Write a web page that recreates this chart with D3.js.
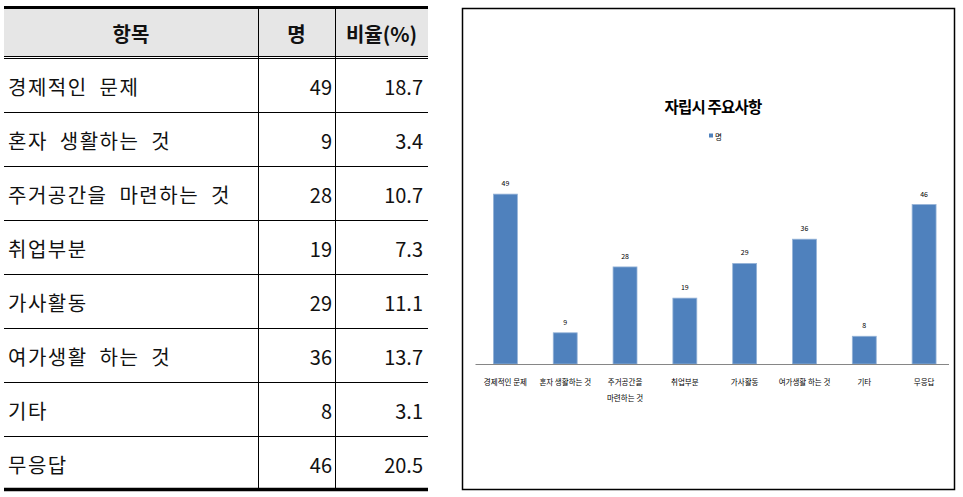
<!DOCTYPE html>
<html><head><meta charset="utf-8">
<script src="https://cdn.jsdelivr.net/npm/d3@7"></script>
<style>
html,body{margin:0;padding:0;background:#fff;}
svg{display:block;}
text{font-family:"Noto Sans CJK KR","Noto Sans",sans-serif;}
</style></head>
<body>
<svg id="c" width="963" height="497"></svg>
<script>
const categories = ["경제적인 문제","혼자 생활하는 것","주거공간을 마련하는 것","취업부분","가사활동","여가생활 하는 것","기타","무응답"];
const tableLabels = ["경제적인  문제","혼자  생활하는  것","주거공간을  마련하는  것","취업부분","가사활동","여가생활  하는  것","기타","무응답"];
const axisLabels = [["경제적인 문제"],["혼자 생활하는 것"],["주거공간을","마련하는 것"],["취업부분"],["가사활동"],["여가생활 하는 것"],["기타"],["무응답"]];
const counts = [49,9,28,19,29,36,8,46];
const ratios = ["18.7","3.4","10.7","7.3","11.1","13.7","3.1","20.5"];
const headers = ["항목","명","비율(%)"];
const chartTitle = "자립시 주요사항";
const seriesName = "명";
const yTicks = [0,10,20,30,40,50,60];

const svg = d3.select("#c");

// ---------- TABLE ----------
const tL = 4, tR = 428, c1 = 258, c2 = 335;
const headTop = 9, headBot = 56;
const rowY = d3.scaleBand().domain(d3.range(categories.length)).range([58.5, 490]);

svg.append("rect").attr("x",tL).attr("y",headTop).attr("width",tR-tL).attr("height",headBot-headTop).attr("fill","#e6e6e6");
svg.append("line").attr("x1",tL).attr("x2",tR).attr("y1",7.5).attr("y2",7.5).attr("stroke","#000").attr("stroke-width",3);
svg.append("line").attr("x1",tL).attr("x2",tR).attr("y1",56.5).attr("y2",56.5).attr("stroke","#000").attr("stroke-width",1);
svg.append("line").attr("x1",tL).attr("x2",tR).attr("y1",58.5).attr("y2",58.5).attr("stroke","#000").attr("stroke-width",1);
svg.append("line").attr("x1",tL).attr("x2",tR).attr("y1",489.5).attr("y2",489.5).attr("stroke","#000").attr("stroke-width",3.5);
[c1,c2].forEach(x=>{
  svg.append("line").attr("x1",x+0.5).attr("x2",x+0.5).attr("y1",9).attr("y2",488).attr("stroke","#000").attr("stroke-width",1);
});
categories.forEach((c,i)=>{
  if(i>0) svg.append("line").attr("x1",tL).attr("x2",tR).attr("y1",Math.round(rowY(i))+0.5).attr("y2",Math.round(rowY(i))+0.5).attr("stroke","#000");
});
const hy = (headTop+headBot)/2+1;
const hx = [ (tL+c1)/2, (c1+c2)/2, (c2+tR)/2 ];
headers.forEach((h,i)=>{
  svg.append("text").attr("x",hx[i]).attr("y",hy).attr("text-anchor","middle").attr("dominant-baseline","central")
    .attr("font-size",20).attr("font-weight","bold").attr("fill","#111").text(h);
});
const rows = svg.append("g");
categories.forEach((c,i)=>{
  const cy = rowY(i)+rowY.bandwidth()/2+1;
  rows.append("text").attr("x",8).attr("y",cy).attr("dominant-baseline","central").attr("font-size",20).attr("fill","#111")
    .attr("letter-spacing",1.5).attr("xml:space","preserve").style("white-space","pre").text(tableLabels[i]);
  rows.append("text").attr("x",332).attr("y",cy).attr("dominant-baseline","central").attr("text-anchor","end").attr("font-size",20).attr("fill","#111").text(counts[i]);
  rows.append("text").attr("x",423).attr("y",cy).attr("dominant-baseline","central").attr("text-anchor","end").attr("font-size",20).attr("fill","#111").text(ratios[i]);
});

// ---------- CHART ----------
svg.append("rect").attr("x",462.5).attr("y",8.5).attr("width",492).attr("height",481).attr("fill","#fff").attr("stroke","#000").attr("stroke-width",1.5);

svg.append("text").attr("x",713).attr("y",106).attr("text-anchor","middle").attr("dominant-baseline","central")
  .attr("font-size",15.5).attr("font-weight","bold").attr("letter-spacing",-0.8).attr("fill","#000").text(chartTitle);
svg.append("rect").attr("x",709).attr("y",133.5).attr("width",4).attr("height",4).attr("fill","#4F81BD");
svg.append("text").attr("x",715).attr("y",136).attr("dominant-baseline","central").attr("font-size",7.5).attr("fill","#000").text(seriesName);

const x = d3.scaleBand().domain(categories).range([475.5, 954]).paddingInner(0.6).paddingOuter(0.3);
const y = d3.scaleLinear().domain([0, d3.max(yTicks)]).range([364, 156]);

const g = svg.append("g");
g.selectAll("rect.bar").data(counts).join("rect").attr("class","bar")
  .attr("x",(d,i)=>x(categories[i])).attr("width",x.bandwidth())
  .attr("y",d=>y(d)).attr("height",d=>y(0)-y(d))
  .attr("fill","#4F81BD").attr("stroke","#95B3D7").attr("stroke-width",0.8);

g.selectAll("text.val").data(counts).join("text").attr("class","val")
  .attr("x",(d,i)=>x(categories[i])+x.bandwidth()/2).attr("y",d=>y(d)-11)
  .attr("text-anchor","middle").attr("dominant-baseline","central").attr("font-size",7).attr("fill","#000").text(d=>d);

g.append("line").attr("x1",475.5).attr("x2",949).attr("y1",y(0)+0.5).attr("y2",y(0)+0.5).attr("stroke","#868686").attr("stroke-width",1);

const lab = g.selectAll("text.cat").data(axisLabels).join("text").attr("class","cat")
  .attr("x",(d,i)=>x(categories[i])+x.bandwidth()/2).attr("y",381)
  .attr("text-anchor","middle").attr("font-size",7.5).attr("fill","#000");
lab.each(function(lines){
  const t = d3.select(this);
  lines.forEach((l,j)=>{
    t.append("tspan").attr("x",t.attr("x")).attr("y",381+j*16.5).attr("dominant-baseline","central").text(l);
  });
});
</script>
</body></html>
